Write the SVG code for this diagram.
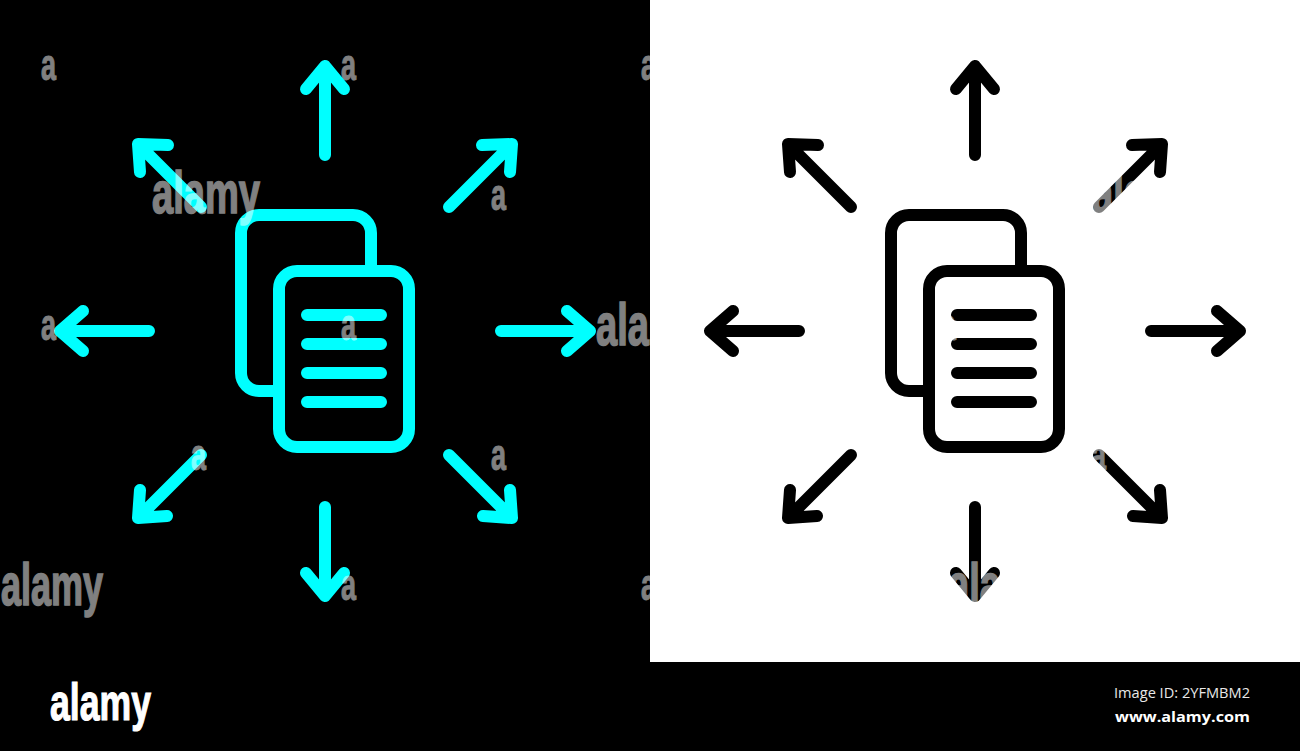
<svg xmlns="http://www.w3.org/2000/svg" width="1300" height="751" viewBox="0 0 1300 751">
<style>
.cy{stroke:#00ffff}
.bk{stroke:#000}
.s{fill:none;stroke-width:12;stroke-linecap:round;stroke-linejoin:round}
.wm text{font-family:"Liberation Sans",Arial,sans-serif;font-weight:700;fill:#fff;stroke:#fff;opacity:.5}
.w{font-size:60px;stroke-width:1.6}
.a{font-size:44px;stroke-width:1}
</style>
<rect width="1300" height="751" fill="#000"/>
<rect x="650" y="0" width="650" height="662" fill="#fff"/>
<g id="connectors-left" class="s cy">
<path d="M325 155V66M306 89L325 66L344 89"/>
<path d="M325 507V596M306 573L325 596L344 573"/>
<path d="M149 331H60M83 311L60 331L83 351"/>
<path d="M501 331H590M567 311L590 331L567 351"/>
<path d="M201 207L138 144M168 145L138 144L140 172"/>
<path d="M449 207L512 144M482 145L512 144L510 172"/>
<path d="M201 455L138 518M167 516L138 518L140 490"/>
<path d="M449 455L512 518M483 516L512 518L510 490"/>
</g>
<g id="doc-left" class="s cy">
<path d="M371 271V233A18 18 0 0 0 353 215H259A18 18 0 0 0 241 233V373A18 18 0 0 0 259 391H279"/>
<rect x="279" y="271" width="130" height="176" rx="18"/>
<path d="M307 315H381M307 344H381M307 373H381M307 402H381"/>
</g>
<g id="connectors-right" class="s bk" transform="translate(650 0)">
<path d="M325 155V66M306 89L325 66L344 89"/>
<path d="M325 507V596M306 573L325 596L344 573"/>
<path d="M149 331H60M83 311L60 331L83 351"/>
<path d="M501 331H590M567 311L590 331L567 351"/>
<path d="M201 207L138 144M168 145L138 144L140 172"/>
<path d="M449 207L512 144M482 145L512 144L510 172"/>
<path d="M201 455L138 518M167 516L138 518L140 490"/>
<path d="M449 455L512 518M483 516L512 518L510 490"/>
</g>
<g id="doc-right" class="s bk" transform="translate(650 0)">
<path d="M371 271V233A18 18 0 0 0 353 215H259A18 18 0 0 0 241 233V373A18 18 0 0 0 259 391H279"/>
<rect x="279" y="271" width="130" height="176" rx="18"/>
<path d="M307 315H381M307 344H381M307 373H381M307 402H381"/>
</g>
<g id="watermarks" class="wm">
<text class="w" x="152" y="213" textLength="108" lengthAdjust="spacingAndGlyphs">alamy</text>
<text class="w" x="596" y="345" textLength="108" lengthAdjust="spacingAndGlyphs">alamy</text>
<text class="w" x="1" y="605" textLength="102" lengthAdjust="spacingAndGlyphs">alamy</text>
<text class="w" x="1092" y="213" textLength="108" lengthAdjust="spacingAndGlyphs">alamy</text>
<text class="w" x="948" y="605" textLength="108" lengthAdjust="spacingAndGlyphs">alamy</text>
<text class="a" x="41" y="80" textLength="15" lengthAdjust="spacingAndGlyphs">a</text>
<text class="a" x="341" y="80" textLength="15" lengthAdjust="spacingAndGlyphs">a</text>
<text class="a" x="641" y="80" textLength="15" lengthAdjust="spacingAndGlyphs">a</text>
<text class="a" x="491" y="210" textLength="15" lengthAdjust="spacingAndGlyphs">a</text>
<text class="a" x="41" y="340" textLength="15" lengthAdjust="spacingAndGlyphs">a</text>
<text class="a" x="341" y="340" textLength="15" lengthAdjust="spacingAndGlyphs">a</text>
<text class="a" x="941" y="340" textLength="15" lengthAdjust="spacingAndGlyphs">a</text>
<text class="a" x="191" y="470" textLength="15" lengthAdjust="spacingAndGlyphs">a</text>
<text class="a" x="491" y="470" textLength="15" lengthAdjust="spacingAndGlyphs">a</text>
<text class="a" x="1091" y="470" textLength="15" lengthAdjust="spacingAndGlyphs">a</text>
<text class="a" x="341" y="600" textLength="15" lengthAdjust="spacingAndGlyphs">a</text>
<text class="a" x="641" y="600" textLength="15" lengthAdjust="spacingAndGlyphs">a</text>
</g>
<g id="footer">
<text x="50" y="720" font-family="'Liberation Sans',Arial,sans-serif" font-weight="700" font-size="52" fill="#fff" stroke="#fff" stroke-width="1.2" textLength="101" lengthAdjust="spacingAndGlyphs">alamy</text>
<text x="1114" y="698" font-family="'Open Sans','Noto Sans',sans-serif" font-size="14" fill="#e8e8e8" textLength="136" lengthAdjust="spacingAndGlyphs">Image ID: 2YFMBM2</text>
<text x="1115" y="722" font-family="'Open Sans','Noto Sans',sans-serif" font-weight="700" font-size="15" fill="#fff" textLength="135" lengthAdjust="spacingAndGlyphs">www.alamy.com</text>
</g>
</svg>
